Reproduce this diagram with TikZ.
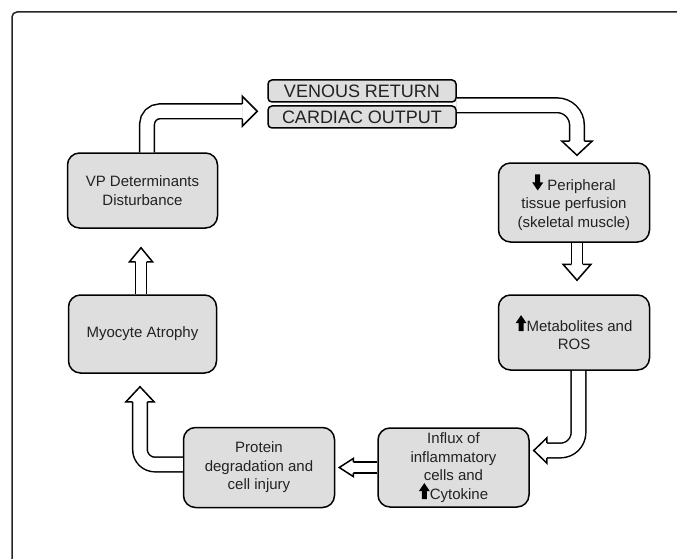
\documentclass[tikz,border=0pt]{standalone}
\usepackage{fontspec}
\setmainfont{Liberation Sans}
\usetikzlibrary{calc}
\definecolor{boxgray}{HTML}{DEDEDE}
\definecolor{txt}{HTML}{222222}
\newcommand{\uarr}{\tikz[baseline=0pt,x=1pt,y=1pt,sharp corners]\fill[black,draw=none] (3,0) -- (3,8) -- (0,8) -- (5.5,16) -- (11,8) -- (8,8) -- (8,0) -- cycle;}
\newcommand{\darr}{\tikz[baseline=0pt,x=1pt,y=1pt,sharp corners]\fill[black,draw=none] (3,16) -- (3,8) -- (0,8) -- (5.5,0) -- (11,8) -- (8,8) -- (8,16) -- cycle;}
% tip, angle, length, half width, shaft half width
\newcommand{\bhead}[5]{\filldraw[fill=white,line width=1.5pt,line join=miter,shift={(#1)},rotate=#2] (-#3,-#5) -- (-#3,-#4) -- (0,0) -- (-#3,#4) -- (-#3,#5);}
\tikzset{
  box/.style={draw, line width=1.5pt, fill=boxgray, rounded corners=12, inner sep=0pt,
    align=center, text=txt, font=\fontsize{15}{18.5}\selectfont},
  hbox/.style={draw, line width=1.5pt, fill=boxgray, rounded corners=4, inner sep=0pt,
    minimum width=188, minimum height=22, text=txt, font=\fontsize{18}{20}\selectfont},
  shaft/.style={double=white, double distance=13.1pt, line width=1.5pt},
  shaftS/.style={double=white, double distance=9.5pt, line width=1.5pt},
}
\begin{document}
\begin{tikzpicture}[x=1pt,y=-1pt]
\clip (0,0) rectangle (677,559);
\fill[white] (0,0) rectangle (677,559);
\draw[line width=1.5pt, black!85, rounded corners=5] (12,600) -- (12,12) -- (720,12);

% nodes
\node[hbox] (vr) at (362,91) {VENOUS RETURN};
\node[hbox] (co) at (362,117) {CARDIAC OUTPUT};
\node[box, minimum width=151, minimum height=79] (pp) at (574,202.5) {\darr\ Peripheral\\tissue perfusion\\(skeletal muscle)};
\node[box, minimum width=151, minimum height=75] (met) at (574,332.5) {\uarr Metabolites and\\ROS};
\node[box, minimum width=151, minimum height=79] (inf) at (453.5,467.5) {Influx of\\inflammatory\\cells and\\\uarr Cytokine};
\node[box, minimum width=151, minimum height=80] (pro) at (259,467.5) {Protein\\degradation and\\cell injury};
\node[box, minimum width=148, minimum height=78] (myo) at (142.5,334) {Myocyte Atrophy};
\node[box, minimum width=150, minimum height=75] (vp) at (142.5,190.5) {VP Determinants\\Disturbance};

% arrow 1: VP -> venous return
\coordinate (t1) at ($(vr.south west)+(-10,8.5)$);
\draw[shaft, rounded corners=13] ([xshift=4.5]vp.north) |- ($(t1)+(-15,0)$);
\bhead{t1}{0}{15}{15}{7.3}

% arrow 2: cardiac output -> peripheral
\coordinate (t2) at ($(pp.north)+(3,-7)$);
\draw[shaft, rounded corners=20] ($(vr.south east)+(0,2.5)$) -| ($(t2)+(0,-14)$);
\bhead{t2}{-90}{14}{15}{7.3}

% arrow 3: peripheral -> metabolites
\coordinate (t3) at ($(met.north)+(3,-14)$);
\draw[shaftS] (pp.south -| t3) -- ($(t3)+(0,-16)$);
\bhead{t3}{-90}{16}{14}{5.5}

% arrow 4: metabolites -> influx
\coordinate (t4) at ($(inf.east)+(4,-17)$);
\draw[shaft, rounded corners=18] ($(met.south)+(4.5,0)$) |- ($(t4)+(13,0)$);
\bhead{t4}{180}{13}{12.5}{7.3}

% arrow 5: influx -> protein
\coordinate (t5) at ($(pro.east |- inf.west)+(4,0)$);
\draw[shaftS] (inf.west) -- ($(t5)+(14,0)$);
\bhead{t5}{180}{14}{9}{5.5}

% arrow 6: protein -> myocyte
\coordinate (t6) at ($(myo.south)+(-2.5,13)$);
\draw[shaft, rounded corners=15] ($(pro.west)+(0,-3)$) -| ($(t6)+(0,15)$);
\bhead{t6}{90}{15}{14}{7.3}

% arrow 7: myocyte -> VP
\coordinate (t7) at ($(vp.south)+(-1.5,19)$);
\draw[shaftS] (myo.north -| t7) -- ($(t7)+(0,14)$);
\bhead{t7}{90}{14}{11.5}{5.5}
\end{tikzpicture}
\end{document}
